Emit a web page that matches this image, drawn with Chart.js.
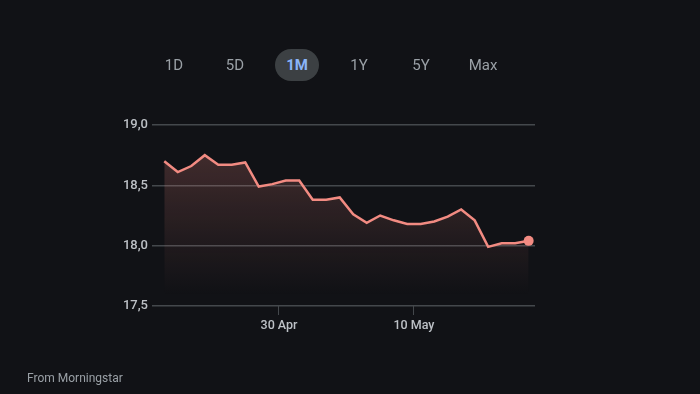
<!DOCTYPE html>
<html>
<head>
<meta charset="utf-8">
<script src="https://cdn.jsdelivr.net/npm/chart.js@4"></script>
<style>
  html, body { margin: 0; padding: 0; background: #111216; width: 700px; height: 394px; overflow: hidden; }
  #wrap { position: absolute; left: 0; top: 0; width: 700px; height: 394px; }
  .btn { position: absolute; top: 49px; height: 32px; line-height: 32px; font-family: Roboto, Arial, sans-serif; font-size: 15px; color: #9aa0a6; text-align: center; transform: translateX(-50%); white-space: nowrap; }
  .btn.active { background: #3c4043; color: #8ab4f8; font-weight: bold; border-radius: 16px; width: 44px; }
  #src { position: absolute; left: 27px; top: 371px; font-family: Roboto, Arial, sans-serif; font-size: 12px; color: #9aa0a6; }
</style>
</head>
<body>
<div id="wrap"><canvas id="c" width="700" height="394"></canvas></div>
<div class="btn" style="left:174px">1D</div>
<div class="btn" style="left:235px">5D</div>
<div class="btn active" style="left:297px">1M</div>
<div class="btn" style="left:359px">1Y</div>
<div class="btn" style="left:421px">5Y</div>
<div class="btn" style="left:483px">Max</div>
<div id="src">From Morningstar</div>
<script>
const dates = ['21 Apr','22 Apr','23 Apr','24 Apr','25 Apr','26 Apr','27 Apr','28 Apr','29 Apr','30 Apr',
               '1 May','2 May','3 May','4 May','5 May','6 May','7 May','8 May','9 May','10 May',
               '11 May','12 May','13 May','14 May','15 May','16 May','17 May','18 May'];
const prices = [18.70, 18.61, 18.66, 18.75, 18.67, 18.67, 18.69, 18.49, 18.51, 18.54,
                18.54, 18.38, 18.38, 18.40, 18.26, 18.19, 18.25, 18.21, 18.18, 18.18,
                18.20, 18.24, 18.30, 18.21, 17.99, 18.02, 18.02, 18.04];
const xTickPositions = [8.5, 18.5];
const xTickLabels = ['30 Apr', '10 May'];
const yTicks = [17.5, 18.0, 18.5, 19.0];

const points = prices.map((v, i) => ({ x: i, y: v }));
const lastIndex = prices.length - 1;

new Chart(document.getElementById('c'), {
  type: 'line',
  data: {
    datasets: [{
      data: points,
      borderColor: '#f28b82',
      borderWidth: 2.5,
      tension: 0,
      pointRadius: ctx => ctx.dataIndex === lastIndex ? 5 : 0,
      pointHoverRadius: 0,
      pointBackgroundColor: '#f28b82',
      pointBorderWidth: 0,
      fill: 'start',
      backgroundColor: ctx => {
        const { chart } = ctx;
        const area = chart.chartArea;
        if (!area) return 'rgba(242,139,130,0.15)';
        const g = chart.ctx.createLinearGradient(0, 150, 0, 295);
        g.addColorStop(0, 'rgba(242,139,130,0.22)');
        g.addColorStop(0.6, 'rgba(242,139,130,0.08)');
        g.addColorStop(1, 'rgba(242,139,130,0)');
        return g;
      }
    }]
  },
  options: {
    responsive: false,
    animation: false,
    events: [],
    layout: { padding: { left: 0, top: 125, right: 165, bottom: 0 } },
    plugins: { legend: { display: false }, tooltip: { enabled: false } },
    scales: {
      x: {
        type: 'linear',
        min: -0.91,
        max: 27.47,
        afterBuildTicks: s => { s.ticks = xTickPositions.map(v => ({ value: v })); },
        afterFit: s => { s.height = 88; },
        ticks: {
          autoSkip: false,
          maxRotation: 0,
          padding: 3,
          color: '#bdc1c6',
          font: { family: 'Roboto, Arial, sans-serif', size: 12.5, weight: '500' },
          callback: (v, i) => xTickLabels[i]
        },
        grid: { drawOnChartArea: false, drawTicks: true, tickLength: 9, color: '#44484c', lineWidth: 1 },
        border: { display: false }
      },
      y: {
        min: 17.5,
        max: 19.0,
        afterBuildTicks: s => { s.ticks = yTicks.map(v => ({ value: v })); },
        afterFit: s => { s.width = 152; },
        ticks: {
          padding: 4,
          color: '#bdc1c6',
          font: { family: 'Roboto, Arial, sans-serif', size: 13, weight: '500' },
          callback: v => v.toFixed(1).replace('.', ',')
        },
        grid: { drawTicks: false, color: '#44484c', lineWidth: 1.5 },
        border: { display: false }
      }
    }
  }
});
</script>
</body>
</html>
